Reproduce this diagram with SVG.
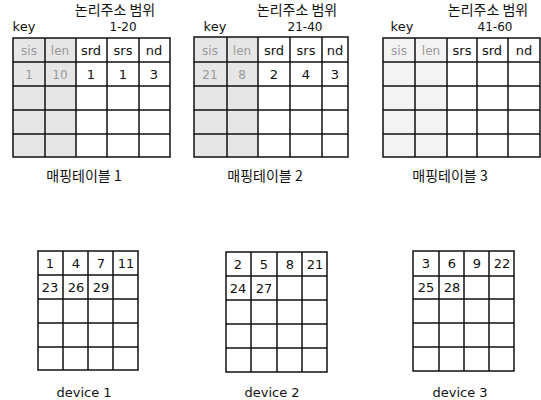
<svg xmlns="http://www.w3.org/2000/svg" width="541" height="400" viewBox="0 0 541 400">
<style>
.g{fill:none;stroke:#111;stroke-width:1.5}
.sh{fill:#e6e6e6}
.sh3{fill:#f3f3f3}
.t{font-family:"DejaVu Sans","Liberation Sans",sans-serif;font-size:13px;fill:#111;text-anchor:middle}
.r{font-family:"DejaVu Sans","Liberation Sans",sans-serif;font-size:12px;fill:#111;text-anchor:middle}
.tg{font-family:"DejaVu Sans","Liberation Sans",sans-serif;font-size:12px;fill:#999;text-anchor:middle}
.k{font-family:"Noto Sans CJK KR","Noto Sans",sans-serif;font-size:14px;fill:#111;text-anchor:middle}
.c{font-family:"Noto Sans CJK KR","Noto Sans",sans-serif;font-size:14px;fill:#111;text-anchor:middle}
.n{font-family:"DejaVu Sans","Liberation Sans",sans-serif;font-size:13px;fill:#111;text-anchor:middle}
</style>
<rect width="541" height="400" fill="#fff"/>
<g id="table1">
<rect class="sh" x="13" y="38" width="63" height="119"/>
<path class="g" d="M13,38H170V157H13Z M45,38V157 M76,38V157 M107,38V157 M139,38V157 M13,62H170 M13,86H170 M13,110H170 M13,134H170"/>
<text class="k" x="115" y="15">논리주소 범위</text>
<text class="r" x="123" y="31">1-20</text>
<text class="t" x="24" y="31">key</text>
<text class="tg" x="29" y="55">sis</text>
<text class="tg" x="60" y="55">len</text>
<text class="t" x="91" y="55">srd</text>
<text class="t" x="123" y="55">srs</text>
<text class="t" x="154" y="55">nd</text>
<text class="tg" x="29" y="79">1</text>
<text class="tg" x="60" y="79">10</text>
<text class="t" x="91" y="79">1</text>
<text class="t" x="123" y="79">1</text>
<text class="t" x="154" y="79">3</text>
<text class="c" x="84" y="181">매핑테이블 1</text>
</g>
<g id="table2">
<rect class="sh" x="194" y="37" width="64" height="120"/>
<path class="g" d="M194,37H348V157H194Z M227,37V157 M258,37V157 M290,37V157 M322,37V157 M194,62H348 M194,86H348 M194,110H348 M194,134H348"/>
<text class="k" x="297" y="15">논리주소 범위</text>
<text class="r" x="305" y="31">21-40</text>
<text class="t" x="215" y="31">key</text>
<text class="tg" x="210" y="55">sis</text>
<text class="tg" x="242" y="55">len</text>
<text class="t" x="274" y="55">srd</text>
<text class="t" x="306" y="55">srs</text>
<text class="t" x="335" y="55">nd</text>
<text class="tg" x="210" y="79">21</text>
<text class="tg" x="242" y="79">8</text>
<text class="t" x="274" y="79">2</text>
<text class="t" x="306" y="79">4</text>
<text class="t" x="335" y="79">3</text>
<text class="c" x="265" y="181">매핑테이블 2</text>
</g>
<g id="table3">
<rect class="sh3" x="383" y="38" width="64" height="119"/>
<path class="g" d="M383,38H540V157H383Z M415,38V157 M447,38V157 M477,38V157 M508,38V157 M383,62H540 M383,86H540 M383,110H540 M383,134H540"/>
<text class="k" x="488" y="15">논리주소 범위</text>
<text class="r" x="495" y="31">41-60</text>
<text class="t" x="402" y="31">key</text>
<text class="tg" x="399" y="55">sis</text>
<text class="tg" x="431" y="55">len</text>
<text class="t" x="462" y="55">srs</text>
<text class="t" x="492" y="55">srd</text>
<text class="t" x="524" y="55">nd</text>
<text class="c" x="450" y="181">매핑테이블 3</text>
</g>
<g id="device1">
<path class="g" d="M38,251H138V370H38Z M63,251V370 M88,251V370 M113,251V370 M38,275H138 M38,299H138 M38,323H138 M38,347H138"/>
<text class="n" x="50" y="268">1</text>
<text class="n" x="76" y="268">4</text>
<text class="n" x="101" y="268">7</text>
<text class="n" x="126" y="268">11</text>
<text class="n" x="50" y="292">23</text>
<text class="n" x="76" y="292">26</text>
<text class="n" x="101" y="292">29</text>
<text class="n" x="84" y="397">device 1</text>
</g>
<g id="device2">
<path class="g" d="M226,252H327V372H226Z M251,252V372 M277,252V372 M302,252V372 M226,276H327 M226,300H327 M226,324H327 M226,348H327"/>
<text class="n" x="238" y="269">2</text>
<text class="n" x="264" y="269">5</text>
<text class="n" x="290" y="269">8</text>
<text class="n" x="315" y="269">21</text>
<text class="n" x="238" y="293">24</text>
<text class="n" x="264" y="293">27</text>
<text class="n" x="272" y="397">device 2</text>
</g>
<g id="device3">
<path class="g" d="M413,251H514V371H413Z M439,251V371 M464,251V371 M489,251V371 M413,276H514 M413,299H514 M413,323H514 M413,347H514"/>
<text class="n" x="426" y="268">3</text>
<text class="n" x="452" y="268">6</text>
<text class="n" x="477" y="268">9</text>
<text class="n" x="502" y="268">22</text>
<text class="n" x="426" y="292">25</text>
<text class="n" x="452" y="292">28</text>
<text class="n" x="460" y="397">device 3</text>
</g>
</svg>
